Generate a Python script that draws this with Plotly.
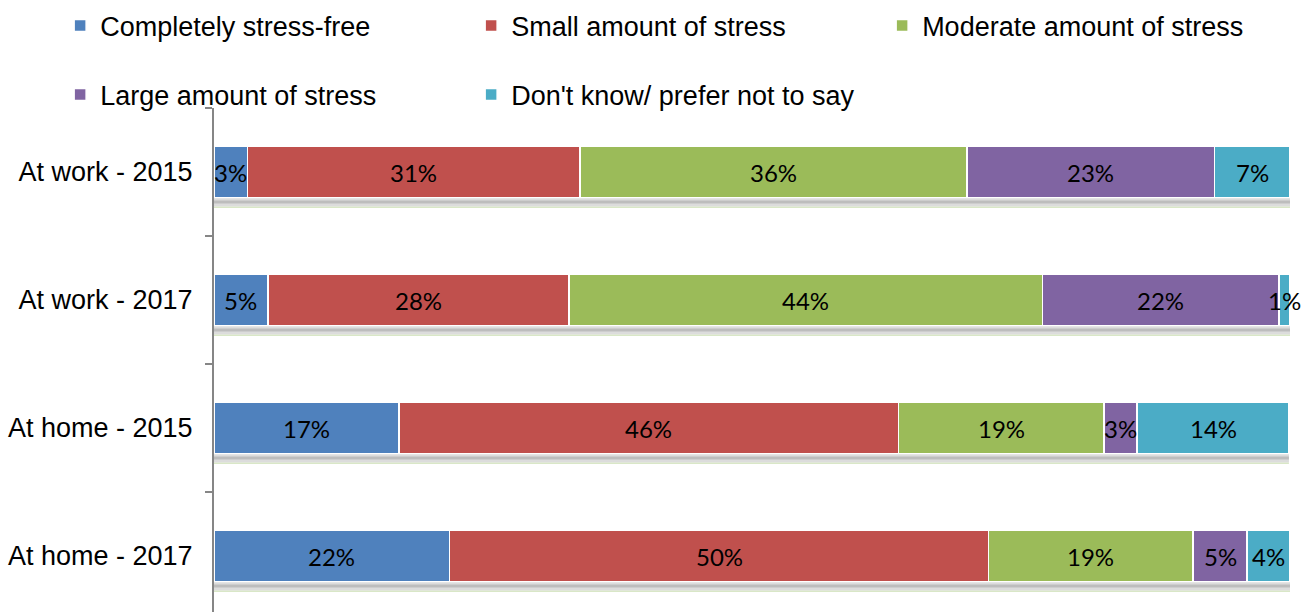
import plotly.graph_objects as go

categories = ["At work - 2015", "At work - 2017", "At home - 2015", "At home - 2017"]
series_names = ["Completely stress-free", "Small amount of stress", "Moderate amount of stress",
                "Large amount of stress", "Don't know/ prefer not to say"]
stress_free = [3.1, 5.0, 17.2, 21.9]
small = [30.9, 28.0, 46.4, 50.1]
moderate = [36.0, 44.0, 19.1, 19.0]
large = [23.0, 22.0, 3.1, 5.0]
dont_know = [7.0, 1.0, 14.1, 4.0]
colors = ["#4F81BD", "#C0504D", "#9BBB59", "#8064A2", "#4BACC6"]

series = [stress_free, small, moderate, large, dont_know]
legend_ids = ["legend", "legend", "legend", "legend2", "legend2"]

fig = go.Figure()
for name, vals, col, lg in zip(series_names, series, colors, legend_ids):
    fig.add_trace(go.Bar(
        y=categories, x=vals, name=name, orientation="h",
        marker=dict(color=col, line=dict(color="white", width=1.5)),
        legend=lg, hoverinfo="x+name",
    ))

# labels at segment centres
annotations = []
cum = [0.0] * len(categories)
for vals in series:
    for i, (c, v) in enumerate(zip(categories, vals)):
        annotations.append(dict(x=cum[i] + v / 2, y=c, xref="x", yref="y",
                                text=f"{round(v)}%", showarrow=False,
                                font=dict(family="Lato", size=24, color="black")))
        cum[i] += v

# shadow bands beneath each bar
shapes = []
for i, c in enumerate(categories):
    shapes.append(dict(type="rect", xref="x", yref="y", x0=0, x1=cum[i],
                       y0=i + 0.205, y1=i + 0.27, fillcolor="#dcdcdc",
                       line=dict(width=0), layer="below"))
    shapes.append(dict(type="line", xref="x", yref="y", x0=0, x1=cum[i],
                       y0=i + 0.235, y1=i + 0.235, line=dict(color="#bdbdbd", width=3),
                       layer="below"))
    shapes.append(dict(type="line", xref="x", yref="y", x0=0, x1=cum[i],
                       y0=i + 0.275, y1=i + 0.275, line=dict(color="#c9dcae", width=1),
                       layer="below"))

fig.update_layout(
    width=1316, height=612,
    margin=dict(l=214, r=26, t=108, b=0, autoexpand=False),
    barmode="stack", bargap=0.6,
    plot_bgcolor="white", paper_bgcolor="white",
    font=dict(family="Liberation Sans", size=27, color="black"),
    xaxis=dict(visible=False, range=[0, 100], fixedrange=True),
    yaxis=dict(categoryorder="array", categoryarray=categories,
               range=[3.4375, -0.5], showline=True, linecolor="#868686", linewidth=2,
               ticks="outside", tickson="boundaries", ticklen=7, tickcolor="#868686",
               tickwidth=1.5, showgrid=False, zeroline=False, ticklabelstandoff=14,
               tickfont=dict(family="Liberation Sans", size=27, color="black")),
    legend=dict(orientation="h", x=-0.143, xanchor="left", y=1.163, yanchor="middle",
                entrywidth=366, entrywidthmode="pixels", traceorder="normal",
                font=dict(family="Liberation Sans", size=27), bgcolor="rgba(0,0,0,0)"),
    legend2=dict(orientation="h", x=-0.143, xanchor="left", y=1.026, yanchor="middle",
                 entrywidth=366, entrywidthmode="pixels", traceorder="normal",
                 font=dict(family="Liberation Sans", size=27), bgcolor="rgba(0,0,0,0)"),
    annotations=annotations, shapes=shapes,
)

fig.write_html("out.html")
